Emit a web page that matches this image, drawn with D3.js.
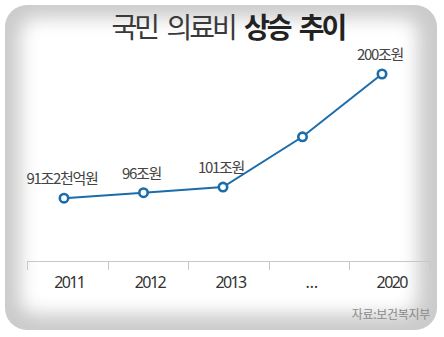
<!DOCTYPE html>
<html>
<head>
<meta charset="utf-8">
<script src="https://cdn.jsdelivr.net/npm/d3@7"></script>
<style>
  html, body { margin: 0; padding: 0; background: #fff; }
  svg { display: block; }
</style>
</head>
<body>
<script>
// Data
const categories = ["2011", "2012", "2013", "…", "2020"];
const values = [91.2, 96, 101, 145, 200];
const valueLabels = ["91조2천억원", "96조원", "101조원", "", "200조원"];
const titleRegular = "국민 의료비 ";
const titleBold = "상승 추이";
const sourceText = "자료:보건복지부";

const W = 444, H = 337;
const svg = d3.select("body").append("svg").attr("width", W).attr("height", H);
const defs = svg.append("defs");

// Panel with soft inner shading at the edges
defs.append("clipPath").attr("id", "panelClip")
  .append("rect").attr("x", 5).attr("y", 5).attr("width", 432).attr("height", 325)
  .attr("rx", 22).attr("ry", 22);
defs.append("filter").attr("id", "soft")
  .attr("x", "-20%").attr("y", "-20%").attr("width", "140%").attr("height", "140%")
  .append("feGaussianBlur").attr("stdDeviation", 9);

const panel = svg.append("g").attr("clip-path", "url(#panelClip)");
panel.append("rect").attr("x", 0).attr("y", 0).attr("width", W).attr("height", H)
  .attr("fill", "#cbcbcb");
panel.append("rect").attr("x", 20).attr("y", 18).attr("width", 398).attr("height", 296)
  .attr("rx", 16).attr("fill", "#fff").attr("filter", "url(#soft)");

// Title
const title = svg.append("text")
  .attr("x", 228).attr("y", 38)
  .attr("text-anchor", "middle")
  .attr("font-family", "'Noto Sans CJK KR', 'Noto Sans', sans-serif")
  .attr("font-size", 28)
  .attr("letter-spacing", -3)
  .attr("word-spacing", 6);
title.append("tspan").attr("font-weight", 400).attr("fill", "#3a3a3a").text(titleRegular);
title.append("tspan").attr("font-weight", 700).attr("fill", "#222").text(titleBold);

// Scales
const xBand = d3.scaleBand().domain(categories).range([27, 430]).padding(0);
const xPoint = d3.scalePoint().domain(categories).range([64, 382]);
const y = d3.scaleLinear().domain([80, 200]).range([211, 74]);

// Category axis
const axisG = svg.append("g").attr("transform", "translate(0,261)");
axisG.append("line").attr("x1", 27).attr("x2", 430).attr("y1", 0.5).attr("y2", 0.5)
  .attr("stroke", "#c8c8c8").attr("stroke-width", 1);
const tickXs = categories.map(c => xBand(c)).concat([xBand.range()[1]]);
axisG.selectAll("line.tick").data(tickXs).join("line").attr("class", "tick")
  .attr("x1", d => Math.round(d) + 0.5).attr("x2", d => Math.round(d) + 0.5)
  .attr("y1", 0).attr("y2", 9)
  .attr("stroke", "#c8c8c8").attr("stroke-width", 1);
axisG.selectAll("text").data(categories).join("text")
  .attr("x", d => xBand(d) + xBand.bandwidth() / 2 + 2)
  .attr("y", 27)
  .attr("text-anchor", "middle")
  .attr("font-family", "'Noto Sans', 'Noto Sans CJK KR', sans-serif")
  .attr("font-size", 16)
  .attr("letter-spacing", -1.6)
  .attr("fill", "#333")
  .text(d => d);

// Line
const pts = categories.map((c, i) => ({ c, v: values[i], label: valueLabels[i] }));
const line = d3.line().x(d => xPoint(d.c)).y(d => y(d.v));
svg.append("path").datum(pts)
  .attr("d", line)
  .attr("fill", "none")
  .attr("stroke", "#1a6cab")
  .attr("stroke-width", 2);

svg.selectAll("circle.pt").data(pts).join("circle").attr("class", "pt")
  .attr("cx", d => xPoint(d.c)).attr("cy", d => y(d.v)).attr("r", 4.2)
  .attr("fill", "#fff").attr("stroke", "#1a6cab").attr("stroke-width", 2.6);

// Value labels
svg.selectAll("text.val").data(pts.filter(d => d.label)).join("text").attr("class", "val")
  .attr("x", d => xPoint(d.c) - 2)
  .attr("y", d => y(d.v) - 14)
  .attr("text-anchor", "middle")
  .attr("font-family", "'Noto Sans CJK KR', 'Noto Sans', sans-serif")
  .attr("font-size", 15)
  .attr("letter-spacing", -1.3)
  .attr("fill", "#444")
  .text(d => d.label);

// Source
svg.append("text")
  .attr("x", 430).attr("y", 319)
  .attr("text-anchor", "end")
  .attr("font-family", "'Noto Sans CJK KR', sans-serif")
  .attr("font-size", 12)
  .attr("letter-spacing", -0.3)
  .attr("fill", "#8a8a8a")
  .text(sourceText);
</script>
</body>
</html>
